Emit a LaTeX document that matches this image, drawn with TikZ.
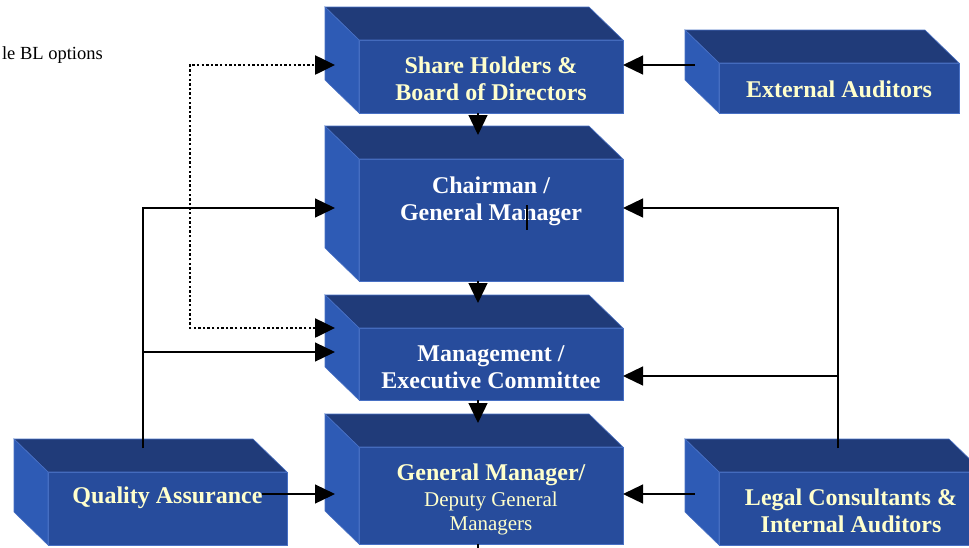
\documentclass[tikz,border=0pt]{standalone}
\usepackage{fontspec}
\setmainfont{Liberation Serif}
\usetikzlibrary{arrows.meta,calc}

\definecolor{frontblue}{RGB}{39,76,156}
\definecolor{topblue}{RGB}{32,59,121}
\definecolor{sideblue}{RGB}{46,91,181}
\definecolor{edgeblue}{RGB}{72,112,196}
\definecolor{paleyellow}{RGB}{255,255,204}

% front face as a node, top and left faces drawn from its corners
\newcommand{\prism}[5]{%
  \node[front, minimum width=#4, minimum height=#5] (#1) at (#2,#3) {};
  \filldraw[topface] (#1.north west) -- ++(-34,-33) -- ($(#1.north east)+(-34,-33)$) -- (#1.north east) -- cycle;
  \filldraw[sideface] (#1.north west) -- ++(-34,-33) -- ($(#1.south west)+(-34,-33)$) -- (#1.south west) -- cycle;
}

\begin{document}
\begin{tikzpicture}[x=1pt,y=-1pt,
    front/.style={anchor=north west, fill=frontblue, draw=edgeblue, line width=0.6pt, inner sep=0pt, outer sep=0pt},
    topface/.style={fill=topblue, draw=edgeblue, line width=0.6pt},
    sideface/.style={fill=sideblue, draw=edgeblue, line width=0.6pt},
    lbl/.style={anchor=base, align=center, inner sep=0pt, text=paleyellow, font=\bfseries\fontsize{24}{27}\selectfont},
    conn/.style={-{Triangle[length=20pt,width=19pt]}, line width=1.3pt},
    dotconn/.style={{Triangle[length=20pt,width=19pt]}-{Triangle[length=20pt,width=19pt]}, line width=2.6pt, dash pattern=on 2.4pt off 2.2pt}]
    \useasboundingbox (0,0) rectangle (969,547);
    \clip (0,0) rectangle (969,547);

    \prism{shb}{359}{40}{264}{73}
    \prism{ext}{719}{63}{240}{50}
    \prism{chm}{359}{159}{264}{122}
    \prism{mgt}{359}{328}{264}{72}
    \prism{gmd}{359}{447}{264}{97}
    \prism{qa}{48}{472}{239}{73}
    \prism{leg}{719}{472}{264}{73}

    % multi-line labels sit on the baseline of their last line
    \node[lbl] (shbt) at ($(shb.north)+(0,60)$) {Share Holders \&\\Board of Directors};
    \node[lbl] (extt) at ($(ext.north)+(0,34)$) {External Auditors};
    \node[lbl, text=white] (chmt) at ($(chm.north)+(0,61)$) {Chairman /\\General Manager};
    \node[lbl, text=white] (mgtt) at ($(mgt.north)+(0,60)$) {Management /\\Executive Committee};
    \node[lbl] (gmdt) at ($(gmd.north)+(0,33)$) {General Manager/};
    \node[lbl, font=\fontsize{21}{24}\selectfont] (gmds) at ($(gmd.north)+(0,83)$) {Deputy General\\Managers};
    \node[lbl] (qat) at ($(qa.north)+(0,31)$) {Quality Assurance};
    \node[lbl] (legt) at ($(leg.north)+(0,60)$) {Legal Consultants \&\\Internal Auditors};
    \node[anchor=base east, inner sep=0pt, font=\fontsize{18.5}{22}\selectfont] (blopt) at (103,59) {le BL options};

    \coordinate (qaup) at ($(qa.north west)+(95,-24)$);
    \coordinate (legup) at ($(leg.north west)+(119,-24)$);
    \draw[conn] ($(ext.north west)+(-24,2)$) -- ($(shb.north east)+(0,25)$);
    \draw[conn] ($(shb.south)+(-13,0)$) -- ($(chm.north)+(-13,-24)$);
    \draw[conn] ($(chm.south)+(-13,0)$) -- ($(mgt.north)+(-13,-25)$);
    \draw[conn] ($(mgt.south)+(-13,0)$) -- ($(gmd.north)+(-13,-24)$);
    \draw[line width=1.3pt] ($(gmd.south)+(-13,0)$) -- ++(0,6);
    \draw[conn] (qaup) |- ($(chm.north west)+(-24,49)$);
    \draw[conn] (qaup) |- ($(mgt.north west)+(-24,24)$);
    \draw[conn] ($(qa.north west)+(214,22)$) -- ($(gmd.north west)+(-24,47)$);
    \draw[conn] (legup) |- ($(chm.north east)+(0,49)$);
    \draw[conn] (legup) |- ($(mgt.north east)+(0,48)$);
    \draw[conn] ($(leg.north west)+(-24,22)$) -- ($(gmd.north east)+(0,47)$);
    \draw[dotconn] ($(mgt.north west)+(-24,0)$) -- ++(-145,0) |- ($(shb.north west)+(-24,25)$);
    \draw[line width=1.3pt] ($(chm.north west)+(168,46)$) -- ++(0,25);
\end{tikzpicture}
\end{document}
